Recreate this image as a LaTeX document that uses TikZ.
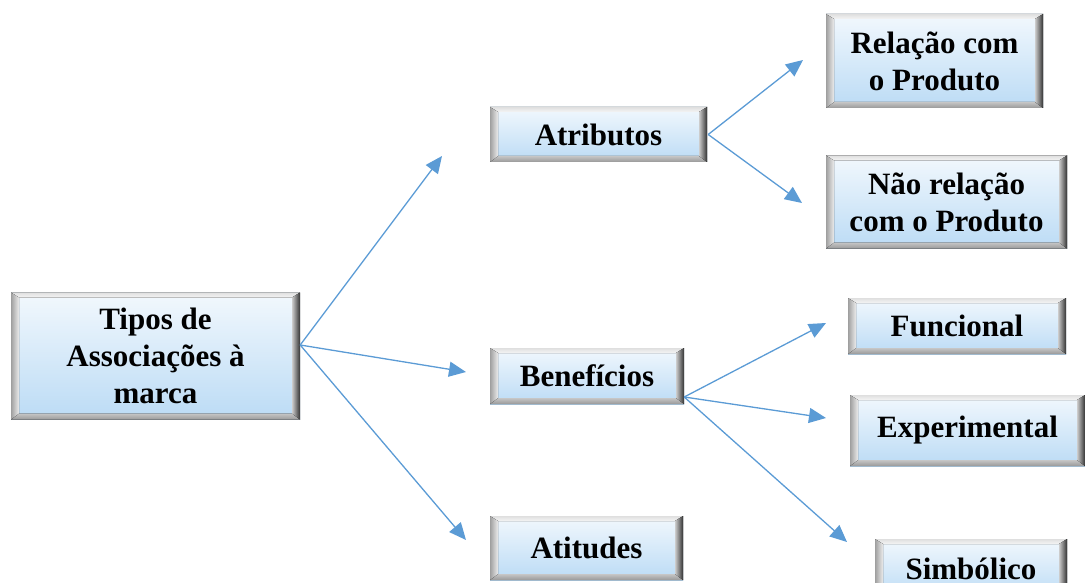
\documentclass[tikz,border=0pt]{standalone}
\usepackage{fontspec}
\setmainfont{Liberation Serif}
\usetikzlibrary{arrows.meta}
\definecolor{arrowblue}{HTML}{5B9BD5}
\definecolor{facetop}{HTML}{F2F8FD}
\definecolor{facebot}{HTML}{BBDBF5}
\tikzset{
  bevbox/.style={inner sep=0pt, align=center,
    font=\fontsize{31}{37}\selectfont\bfseries,
    path picture={
      \fill[top color=facetop, bottom color=facebot]
        (path picture bounding box.south west) rectangle (path picture bounding box.north east);
      \fill[top color=gray!25, bottom color=gray!8]
        (path picture bounding box.north west) -- (path picture bounding box.north east)
        -- ([shift={(-8pt,-5pt)}]path picture bounding box.north east)
        -- ([shift={(8pt,-5pt)}]path picture bounding box.north west) -- cycle;
      \fill[top color=gray!45, bottom color=gray!80]
        (path picture bounding box.south west) -- (path picture bounding box.south east)
        -- ([shift={(-8pt,6pt)}]path picture bounding box.south east)
        -- ([shift={(8pt,6pt)}]path picture bounding box.south west) -- cycle;
      \fill[left color=gray!75, right color=gray!15]
        (path picture bounding box.south west) -- (path picture bounding box.north west)
        -- ([shift={(8pt,-5pt)}]path picture bounding box.north west)
        -- ([shift={(8pt,6pt)}]path picture bounding box.south west) -- cycle;
      \fill[left color=gray!40, right color=black!80]
        (path picture bounding box.south east) -- (path picture bounding box.north east)
        -- ([shift={(-8pt,-5pt)}]path picture bounding box.north east)
        -- ([shift={(-8pt,6pt)}]path picture bounding box.south east) -- cycle;
    }},
  conn/.style={draw=arrowblue, line width=1.3pt,
    -{Triangle[length=17pt,width=15pt]}}
}
\begin{document}
\begin{tikzpicture}[x=1pt,y=-1pt]
\useasboundingbox (0,0) rectangle (1085,583);
\begin{scope}
\clip (0,0) rectangle (1085,583);
\node[bevbox, minimum width=289pt, minimum height=127pt] (tipos) at (155.5,356) {Tipos de\\Associações à\\marca};
\node[bevbox, minimum width=217pt, minimum height=55pt] (atrib) at (598.5,134.5) {Atributos};
\node[bevbox, minimum width=194pt, minimum height=56pt] (benef) at (587,376) {Benefícios};
\node[bevbox, minimum width=193pt, minimum height=64pt] (atit) at (586.5,548) {Atitudes};
\node[bevbox, minimum width=217pt, minimum height=94pt] (rel) at (934.5,61) {Relação com\\o Produto};
\node[bevbox, minimum width=241pt, minimum height=93pt] (nrel) at (946.5,202) {Não relação\\com o Produto};
\node[bevbox, minimum width=218pt, minimum height=56pt] (func) at (957,326) {Funcional};
\node[bevbox, minimum width=235pt, minimum height=71pt] (exper) at (967.5,430.5) {Experimental};
\node[bevbox, minimum width=192pt, minimum height=60pt] (simb) at (971,569) {Simbólico};
\end{scope}

\coordinate (t0) at ([yshift=11pt]tipos.east);
\coordinate (ta) at (442,156);
\coordinate (tb) at (466,372);
\coordinate (tc) at (466,540);
\coordinate (a0) at ([xshift=1pt]atrib.east);
\coordinate (ar) at (803,60);
\coordinate (an) at (802,203);
\coordinate (b0) at ([yshift=-21pt]benef.east);
\coordinate (bf) at (826,323);
\coordinate (be) at (826,418);
\coordinate (bs) at (847,542);

\draw[conn] (t0) -- (ta);
\draw[conn] (t0) -- (tb);
\draw[conn] (t0) -- (tc);
\draw[conn] (a0) -- (ar);
\draw[conn] (a0) -- (an);
\draw[conn] (b0) -- (bf);
\draw[conn] (b0) -- (be);
\draw[conn] (b0) -- (bs);
\end{tikzpicture}
\end{document}
